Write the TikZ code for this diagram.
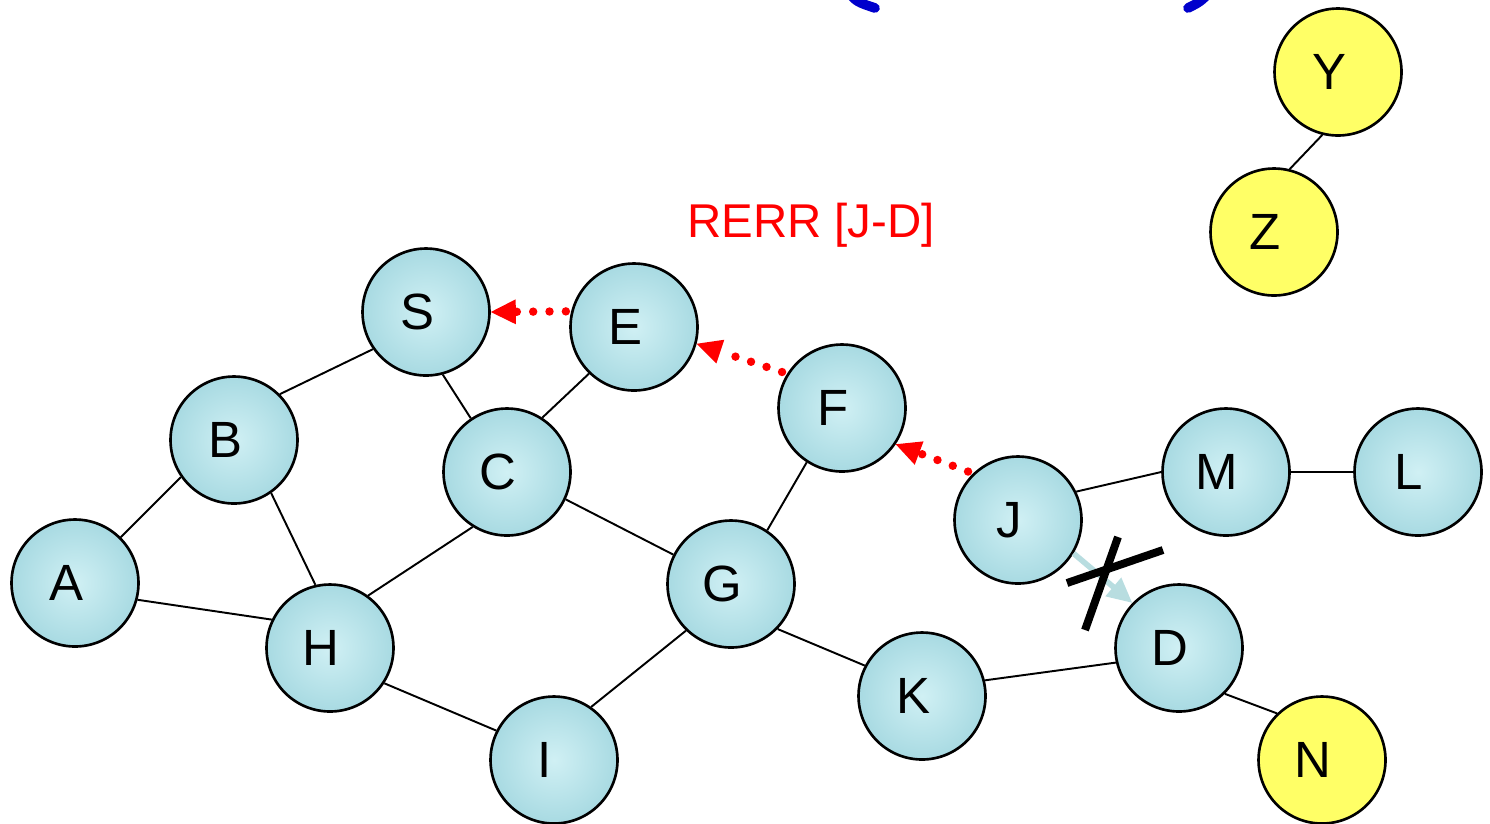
\documentclass[tikz,border=0pt]{standalone}
\usepackage{fontspec}
\setmainfont{Liberation Sans}
\usetikzlibrary{arrows.meta}
\definecolor{nodefillA}{RGB}{208,240,244}
\definecolor{nodefillB}{RGB}{168,218,226}
\definecolor{yelnode}{RGB}{255,255,102}
\definecolor{bluearc}{RGB}{0,0,204}
\definecolor{faintarrow}{RGB}{184,221,224}
\newcommand{\nlbl}[1]{\makebox[0pt][c]{\hspace*{-0.36cm}#1}}
\tikzset{
  wnode/.style={circle,draw=black,line width=1.5pt,minimum size=2.54cm,inner sep=0pt,
    inner color=nodefillA,outer color=nodefillB,font=\fontsize{29}{31}\selectfont},
  ynode/.style={circle,draw=black,line width=1.5pt,minimum size=2.54cm,inner sep=0pt,
    fill=yelnode,font=\fontsize{29}{31}\selectfont},
  edge/.style={draw=black,line width=1.1pt},
  rerr/.style={draw=red,line width=4.8pt,line cap=round,dash pattern=on 0pt off 9.3pt,
    -{Triangle[length=0.5cm,width=0.5cm,line width=0pt,fill=red]},shorten <=3pt},
  faint/.style={draw=faintarrow,line width=3.2pt,
    -{Triangle[length=0.5cm,width=0.46cm,fill=faintarrow]}},
  crossline/.style={draw=black,line width=4.5pt},
  arcstroke/.style={draw=bluearc,line width=5.5pt,line cap=round}
}
\begin{document}
\begin{tikzpicture}[x=0.02cm,y=-0.02cm]
\useasboundingbox (0,0) rectangle (1490,823);
% nodes
\node[ynode] (Y) at (1338,72) {\nlbl{Y}};
\node[ynode] (Z) at (1274,232) {\nlbl{Z}};
\node[wnode] (S) at (426,312) {\nlbl{S}};
\node[wnode] (E) at (634,327) {\nlbl{E}};
\node[wnode] (F) at (842,408) {\nlbl{F}};
\node[wnode] (B) at (234,440) {\nlbl{B}};
\node[wnode] (C) at (507,472) {\nlbl{C}};
\node[wnode] (J) at (1018,520) {\nlbl{J}};
\node[wnode] (M) at (1226,472) {\nlbl{M}};
\node[wnode] (L) at (1418,472) {\nlbl{L}};
\node[wnode] (A) at (75,583) {\nlbl{A}};
\node[wnode] (G) at (731,584) {\nlbl{G}};
\node[wnode] (H) at (330,648) {\nlbl{H}};
\node[wnode] (D) at (1179,648) {\nlbl{D}};
\node[wnode] (K) at (922,696) {\nlbl{K}};
\node[wnode] (I) at (554,760) {\nlbl{I}};
\node[ynode] (N) at (1322,760) {\nlbl{N}};
% edges
\draw[edge] (B.45) -- (S.215);
\draw[edge] (S.-75) -- (C.124);
\draw[edge] (C.57) -- (E.226);
\draw[edge] (A.45) -- (B.215);
\draw[edge] (B.-55) -- (H.103);
\draw[edge] (C.238) -- (H.54);
\draw[edge] (C.-25) -- (G.153);
\draw[edge] (A.-15) -- (H.154);
\draw[edge] (H.-33) -- (I.153);
\draw[edge] (I.55) -- (G.226);
\draw[edge] (G.56) -- (F.237);
\draw[edge] (G.-44) -- (K.152);
\draw[edge] (K.14) -- (D.193);
\draw[edge] (D.-45) -- (N.134);
\draw[edge] (J.26) -- (M.180);
\draw[edge] (M.0) -- (L.180);
\draw[edge] (Y.256) -- (Z.76);
% RERR path
\draw[rerr] (E.166) -- (S.0);
\draw[rerr] (F.148) -- (E.-15);
\draw[rerr] (J.134) -- (F.-34);
\node[text=red,font=\fontsize{27}{29}\selectfont] (lbl) at (811,225) {RERR [J-D]};
% broken link J-D
\draw[faint] (J.-31) -- (D.136);
\coordinate (x1a) at (1085,630);
\coordinate (x1b) at (1118,537);
\coordinate (x2a) at (1067,583);
\coordinate (x2b) at (1163,550);
\draw[crossline] (x1a) -- (x1b);
\draw[crossline] (x2a) -- (x2b);
% blue arcs at top
\coordinate (bl1) at (848,-8);
\coordinate (bl2) at (875,8);
\coordinate (br1) at (1210,-8);
\coordinate (br2) at (1188,8);
\draw[arcstroke] (bl1) .. controls (857,2) .. (bl2);
\draw[arcstroke] (br1) .. controls (1200,2) .. (br2);
\end{tikzpicture}
\end{document}
